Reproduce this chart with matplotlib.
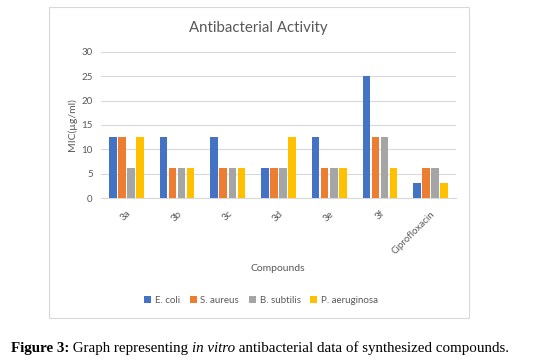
import matplotlib
matplotlib.use("Agg")
import matplotlib.pyplot as plt
import numpy as np
from matplotlib.patches import Rectangle

categories = ["3a", "3b", "3c", "3d", "3e", "3f", "Ciprofloxacin"]
series_names = ["E. coli", "S. aureus", "B. subtilis", "P. aeruginosa"]
e_coli = [12.5, 12.5, 12.5, 6.25, 12.5, 25, 3.125]
s_aureus = [12.5, 6.25, 6.25, 6.25, 6.25, 12.5, 6.25]
b_subtilis = [6.25, 6.25, 6.25, 6.25, 6.25, 12.5, 6.25]
p_aeruginosa = [12.5, 6.25, 6.25, 12.5, 6.25, 6.25, 3.125]
colors = ["#4472C4", "#ED7D31", "#A5A5A5", "#FFC000"]

TXT = "#595959"
FONT = ["Lato", "DejaVu Sans"]

fig = plt.figure(figsize=(5.44, 3.61), dpi=100)
fig.patch.set_facecolor("white")

# chart frame
fig.patches.append(Rectangle((0.090, 0.119), 0.772, 0.861, transform=fig.transFigure,
                             fill=False, edgecolor="#D9D9D9", linewidth=0.8))

ax = fig.add_axes([0.1857, 0.4515, 0.6525, 0.4045])
x = np.arange(len(categories))
pitch = 0.178
width = 0.15
all_series = [e_coli, s_aureus, b_subtilis, p_aeruginosa]
for i, (vals, name, c) in enumerate(zip(all_series, series_names, colors)):
    ax.bar(x + (i - 1.5) * pitch, vals, width=width, color=c, label=name, zorder=3)

ax.set_xlim(-0.5, len(categories) - 0.5)
ax.set_ylim(0, 30)
ax.set_yticks([0, 5, 10, 15, 20, 25, 30])
ax.yaxis.grid(True, color="#D9D9D9", linewidth=0.8, zorder=0)
for s in ["top", "right", "left"]:
    ax.spines[s].set_visible(False)
ax.spines["bottom"].set_color("#D9D9D9")
ax.tick_params(axis="both", length=0, colors=TXT, labelsize=7)
ax.set_xticks(x)
ax.set_xticklabels(categories, rotation=45, ha="right", rotation_mode="anchor",
                   fontfamily=FONT, color=TXT, fontsize=7)
for lab in ax.get_yticklabels():
    lab.set_fontfamily(FONT)
ax.tick_params(axis="x", pad=8)
ax.tick_params(axis="y", pad=6)

ax.set_ylabel("MIC(µg/ml)", fontfamily=FONT, color=TXT, fontsize=7.5, labelpad=3)

fig.text(0.475, 0.922, "Antibacterial Activity", ha="center", va="center",
         fontfamily=FONT, color=TXT, fontsize=10.8)
fig.text(0.511, 0.256, "Compounds", ha="center", va="center",
         fontfamily=FONT, color=TXT, fontsize=7.5)

leg = fig.legend(loc="center", bbox_to_anchor=(0.48, 0.168), ncol=4, frameon=False,
                 prop={"family": FONT, "size": 7}, handlelength=0.7, handleheight=0.7,
                 handletextpad=0.4, columnspacing=1.0)
for t in leg.get_texts():
    t.set_color(TXT)

# caption with mixed styles
parts = [("Figure 3:", "bold", "normal"),
         (" Graph representing ", "normal", "normal"),
         ("in vitro", "normal", "italic"),
         (" antibacterial data of synthesized compounds.", "normal", "normal")]
renderer = fig.canvas.get_renderer()
texts = []
for s, w, st in parts:
    t = fig.text(0, 0.036, s, fontfamily="Liberation Serif", fontsize=10.85,
                 fontweight=w, fontstyle=st, va="center", ha="left", color="black")
    texts.append(t)
widths = [t.get_window_extent(renderer).width for t in texts]
total = sum(widths)
xpos = 260 - total / 2
for t, w in zip(texts, widths):
    t.set_x(xpos / fig.bbox.width)
    xpos += w

fig.savefig("out.png", dpi=100, facecolor="white")
